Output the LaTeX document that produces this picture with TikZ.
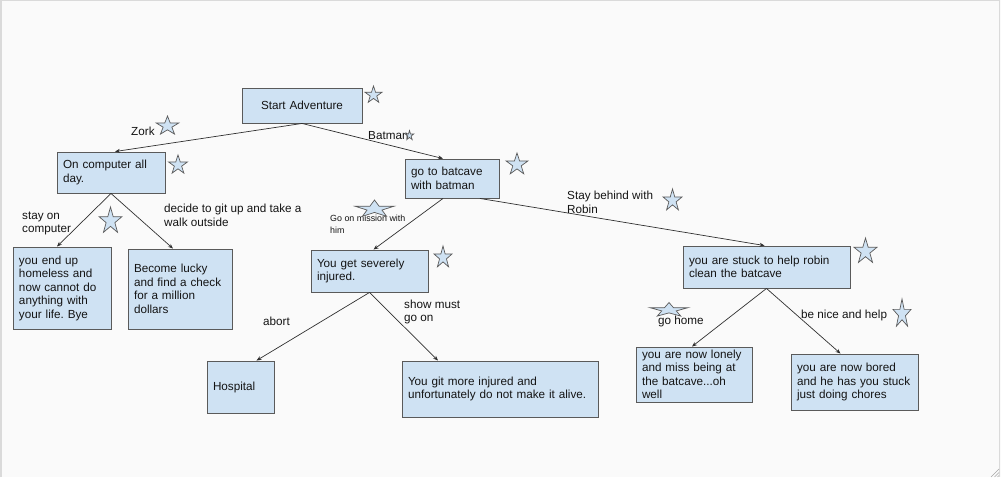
\documentclass[tikz,border=0pt]{standalone}
\usepackage{fontspec}
\setmainfont{Liberation Sans}
\usetikzlibrary{arrows.meta,calc}
\frenchspacing
\definecolor{boxfill}{HTML}{CFE2F3}
\definecolor{boxline}{HTML}{5A5A5A}
\definecolor{lnk}{HTML}{303030}
\definecolor{bgc}{HTML}{FAFAFA}
\definecolor{framec}{HTML}{DADADA}
\definecolor{txt}{HTML}{141414}
\newcommand\myfs{\fontsize{11.7}{13.5}\selectfont}
\newcommand\mysmallfs{\fontsize{8.9}{12}\selectfont}
\newcommand\astar[4]{\draw[starsty,shift={(#1,#2)},xscale=#3,yscale=#4]
  (-90:1) -- (-54:0.382) -- (-18:1) -- (18:0.382) -- (54:1) -- (90:0.382)
  -- (126:1) -- (162:0.382) -- (198:1) -- (234:0.382) -- cycle;}
\tikzset{
  box/.style={draw=boxline, fill=boxfill, line width=0.9pt, rectangle,
    inner xsep=6pt, inner ysep=0pt, align=left, font=\myfs, text=txt},
  lbl/.style={inner sep=0pt, anchor=west, align=left, font=\myfs, text=txt},
  smalllbl/.style={inner sep=0pt, anchor=west, align=left, font=\mysmallfs, text=txt},
  link/.style={draw=lnk, line width=0.7pt, -{Stealth[length=5pt,width=4pt]}},
  starsty/.style={draw=boxline, fill=boxfill, line width=0.7pt, line join=miter}
}
\begin{document}
\begin{tikzpicture}[x=1pt,y=-1pt]
\useasboundingbox (0,0) rectangle (1001,477);
\fill[bgc] (0,0) rectangle (1001,477);
\draw[framec, line width=1.5pt] (1,477) -- (1,0.7) -- (999.5,0.7) -- (999.5,477);
\draw[gray!70, line width=0.6pt] (999,469) -- (991,477) (999,472.5) -- (994.5,477) (999,475.5) -- (997.5,477);

% boxes
\node[box, text width=108pt, minimum height=35pt, align=center] (start) at (302,105.5) {Start Adventure};
\node[box, text width=96pt, minimum height=41pt] (oncomp) at (111,172.5) {On computer all\\day.};
\node[box, text width=82pt, minimum height=39pt] (batcave) at (452,178.5) {go to batcave\\with batman};
\node[box, text width=86pt, minimum height=82pt] (youend) at (62,288) {you end up\\homeless and\\now cannot do\\anything with\\your life. Bye};
\node[box, text width=92pt, minimum height=80pt] (lucky) at (180,289) {Become lucky\\and find a check\\for a million\\dollars};
\node[box, text width=105pt, minimum height=42pt] (severe) at (369.5,271) {You get severely\\injured.};
\node[box, text width=55pt, minimum height=52pt] (hospital) at (240.5,387) {Hospital};
\node[box, text width=184pt, minimum height=56pt] (yougit) at (500,389) {You git more injured and\\unfortunately do not make it alive.};
\node[box, text width=155pt, minimum height=42pt] (stuck) at (766.5,267) {you are stuck to help robin\\clean the batcave};
\node[box, text width=104pt, minimum height=55pt] (lonely) at (694,374.5) {you are now lonely\\and miss being at\\the batcave...oh\\well};
\node[box, text width=115pt, minimum height=56pt] (bored) at (854.5,382) {you are now bored\\and he has you stuck\\just doing chores};

% connectors
\draw[link] (start.south) -- ([xshift=4pt]oncomp.north);
\draw[link] (start.south) -- ([xshift=-9pt]batcave.north);
\draw[link] (oncomp.south) -- ([xshift=-5pt]youend.north);
\draw[link] (oncomp.south) -- ([xshift=-7pt]lucky.north);
\draw[link] ([xshift=-9pt]batcave.south) -- ([xshift=4pt]severe.north);
\draw[link] ([xshift=28pt]batcave.south) -- ([xshift=-2pt]stuck.north);
\draw[link] (severe.south) -- ([xshift=16pt]hospital.north);
\draw[link] (severe.south) -- ([xshift=-62pt]yougit.north);
\draw[link] (stuck.south) -- ([xshift=-2pt]lonely.north);
\draw[link] (stuck.south) -- ([xshift=-14pt]bored.north);

% labels
\node[lbl] (lzork) at (131,131) {Zork};
\node[lbl] (lbatman) at (368,136) {Batman};
\node[lbl] (lstay) at (22,223.5) {stay on\\computer};
\node[lbl] (ldecide) at (164,215.5) {decide to git up and take a\\walk outside};
\node[smalllbl] (lmission) at (330,224) {Go on mission with\\him};
\node[lbl] (lrobin) at (567,202.5) {Stay behind with\\Robin};
\node[lbl] (labort) at (263,321) {abort};
\node[lbl] (lshow) at (404,312) {show must\\go on};
\node[lbl] (lhome) at (658,321) {go home};
\node[lbl] (lnice) at (801,315) {be nice and help};

% stars
\astar{373.5}{95}{9}{9}
\astar{167.5}{126}{12}{10}
\astar{409.5}{135.5}{4.5}{5}
\astar{178}{165}{10}{10}
\astar{517}{164.5}{11.5}{11.5}
\astar{110.5}{221}{12}{14}
\astar{374.5}{209}{20.5}{9}
\astar{672.5}{200.5}{10}{11.5}
\astar{443}{257.5}{9.5}{11.5}
\astar{865.5}{251.5}{12}{13.5}
\astar{669}{310}{20}{7.5}
\astar{902}{314}{9.5}{15}
\end{tikzpicture}
\end{document}
